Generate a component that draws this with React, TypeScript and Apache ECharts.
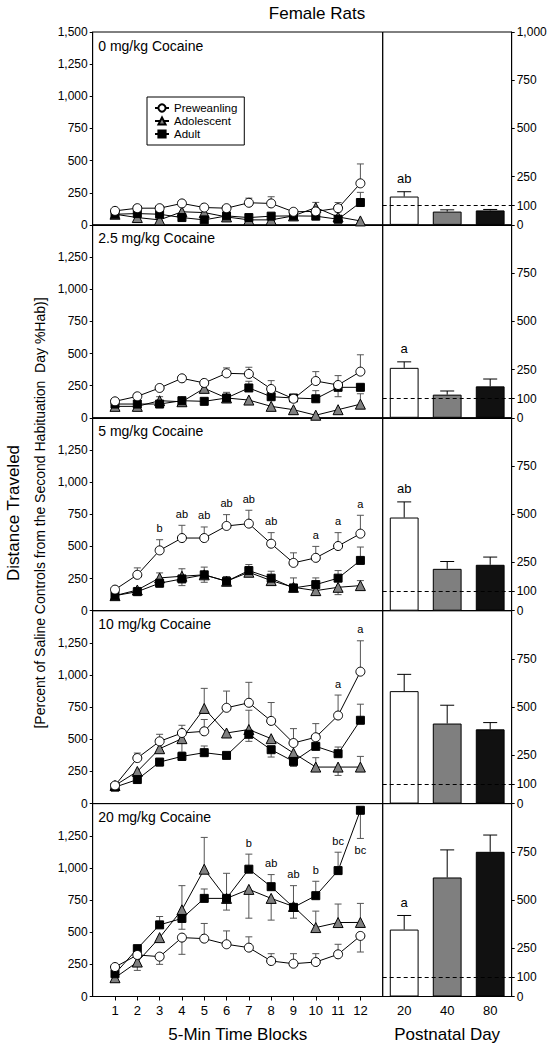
import React, { useEffect, useRef } from "react";
import * as echarts from "echarts";

const FONT = 'Arial, "Liberation Sans", Helvetica, sans-serif';

const blocks = [1, 2, 3, 4, 5, 6, 7, 8, 9, 10, 11, 12];
const days = ["20", "40", "80"];
const doses = ["0 mg/kg Cocaine", "2.5 mg/kg Cocaine", "5 mg/kg Cocaine", "10 mg/kg Cocaine", "20 mg/kg Cocaine"];
const leftTicks = [0, 250, 500, 750, 1000, 1250, 1500];
const rightTicks = [0, 100, 250, 500, 750, 1000];

// Preweanling (PD 20)
const pre0 = [109, 130, 130, 167, 135, 130, 172, 167, 102, 105, 130, 323];
const pre1 = [128, 167, 232, 307, 271, 346, 341, 224, 148, 286, 255, 359];
const pre2 = [164, 279, 469, 565, 565, 659, 677, 521, 372, 411, 503, 599];
const pre3 = [141, 354, 484, 549, 562, 745, 784, 643, 471, 516, 685, 1026];
const pre4 = [229, 323, 310, 458, 450, 406, 380, 276, 255, 268, 328, 471];
const preErr0 = [10, 10, 10, 10, 10, 10, 36, 52, 10, 10, 44, 151];
const preErr1 = [10, 10, 10, 10, 10, 42, 52, 65, 10, 73, 73, 131];
const preErr2 = [10, 54, 83, 99, 86, 88, 104, 86, 78, 89, 104, 143];
const preErr3 = [10, 39, 55, 60, 92, 130, 159, 143, 112, 106, 159, 240];
const preErr4 = [10, 10, -60, -130, 118, 104, 84, 57, 78, 65, 78, -125];

// Adolescent (PD 40)
const ado0 = [83, 57, 39, 102, 96, 62, 39, 39, 70, 135, 62, 31];
const ado1 = [89, 89, 133, 125, 229, 154, 138, 89, 63, 20, 63, 106];
const ado2 = [117, 161, 255, 268, 279, 229, 299, 234, 182, 156, 182, 195];
const ado3 = [141, 250, 427, 505, 740, 549, 576, 505, 393, 284, 284, 284];
const ado4 = [146, 268, 458, 674, 990, 763, 833, 763, 700, 536, 575, 576];
const adoErr0 = [0, 0, 0, 0, 0, 0, 0, 0, 0, 40, 40, 0];
const adoErr1 = [0, 0, 31, 0, 0, 44, 0, 0, 0, 0, 0, 81];
const adoErr2 = [0, 20, 39, 58, 60, 0, 60, 73, 0, -34, -57, 39];
const adoErr3 = [0, 0, 0, -104, 156, 0, 150, 0, 0, 73, -65, 83];
const adoErr4 = [0, -65, 0, 188, 247, 195, -224, -169, 162, 128, 144, 148];

// Adult (PD 80)
const adu0 = [83, 88, 83, 57, 39, 70, 57, 68, 70, 68, 44, 174];
const adu1 = [107, 107, 107, 133, 128, 154, 232, 164, 154, 148, 237, 237];
const adu2 = [117, 148, 214, 247, 279, 229, 312, 253, 177, 203, 253, 391];
const adu3 = [128, 187, 323, 367, 396, 375, 539, 419, 328, 445, 388, 648];
const adu4 = [177, 372, 557, 607, 763, 763, 990, 854, 693, 784, 979, 1448];
const aduErr0 = [0, 0, 0, 0, 0, 0, 0, 0, 0, 0, 0, 79];
const aduErr1 = [0, 0, 0, 0, 0, 0, 52, 35, 0, 63, -73, 0];
const aduErr2 = [0, 0, -30, -52, -58, 36, 0, 0, 78, 52, 59, 104];
const aduErr3 = [0, 0, -30, -30, 52, 0, -55, -57, -39, 0, 52, 125];
const aduErr4 = [0, 0, 65, -84, 73, -91, 117, 94, -84, 112, 143, -219];

// group index: 0 pre, 1 ado, 2 adult
const sig0: [number, string, number][] = [];
const sig1: [number, string, number][] = [];
const sig2: [number, string, number][] = [[3, "b", 0], [4, "ab", 0], [5, "ab", 0], [6, "ab", 0], [7, "ab", 0], [8, "ab", 0], [10, "a", 0], [11, "a", 0], [12, "a", 0]];
const sig3: [number, string, number][] = [[11, "a", 0], [12, "a", 0]];
const sig4: [number, string, number][] = [[7, "b", 2], [8, "ab", 2], [9, "ab", 1], [10, "b", 2], [11, "bc", 2], [12, "bc", 2]];

// Postnatal day bars (%Hab, whole session)
const bar0 = [147, 69, 75];
const bar1 = [259, 120, 163];
const bar2 = [483, 217, 238];
const bar3 = [583, 415, 385];
const bar4 = [347, 617, 750];
const barErr0 = [25, 9, 5];
const barErr1 = [31, 19, 38];
const barErr2 = [81, 38, 40];
const barErr3 = [87, 95, 35];
const barErr4 = [73, 143, 87];
const barSig0 = ["ab", "", ""];
const barSig1 = ["a", "", ""];
const barSig2 = ["ab", "", ""];
const barSig3 = ["", "", ""];
const barSig4 = ["a", "", ""];
const salineLevel = 100;

const preAll = [pre0, pre1, pre2, pre3, pre4];
const preErrAll = [preErr0, preErr1, preErr2, preErr3, preErr4];
const adoAll = [ado0, ado1, ado2, ado3, ado4];
const adoErrAll = [adoErr0, adoErr1, adoErr2, adoErr3, adoErr4];
const aduAll = [adu0, adu1, adu2, adu3, adu4];
const aduErrAll = [aduErr0, aduErr1, aduErr2, aduErr3, aduErr4];
const sigAll = [sig0, sig1, sig2, sig3, sig4];
const barAll = [bar0, bar1, bar2, bar3, bar4];
const barErrAll = [barErr0, barErr1, barErr2, barErr3, barErr4];
const barSigAll = [barSig0, barSig1, barSig2, barSig3, barSig4];

const TOP = 32;
const PH = 192.9;
const LX = 92.7;
const LW = 290;
const RW = 129;

const fmt = (v: number) => v.toLocaleString("en-US");

function errRender(capHalf: number, color: string) {
  return (params: any, api: any) => {
    const x = api.value(0);
    const y = api.value(1);
    const e = api.value(2);
    if (!e) return { type: "group", children: [] };
    const p = api.coord([x, y]);
    const q = api.coord([x, y + e]);
    return {
      type: "group",
      children: [
        { type: "line", shape: { x1: p[0], y1: p[1], x2: q[0], y2: q[1] }, style: { stroke: color, lineWidth: 1 } },
        { type: "line", shape: { x1: q[0] - capHalf, y1: q[1], x2: q[0] + capHalf, y2: q[1] }, style: { stroke: color, lineWidth: 1 } },
      ],
    };
  };
}

function textRender(offset: number, size: number) {
  return (params: any, api: any) => {
    const x = api.value(0);
    const y = api.value(1);
    const e = api.value(2);
    const t = api.value(3);
    if (!t) return { type: "group", children: [] };
    const q = api.coord([x, y + e]);
    const dy = e < 0 ? offset : -offset;
    return {
      type: "text",
      x: q[0],
      y: q[1] + dy,
      style: { text: String(t), textAlign: "center", textVerticalAlign: "middle", fontSize: size, fontFamily: FONT, fill: "#000", textFill: "#000", opacity: 1 },
    };
  };
}

export default function App() {
  const ref = useRef<HTMLDivElement>(null);
  useEffect(() => {
    if (!ref.current) return;
    const chart = echarts.init(ref.current, undefined, { renderer: "svg" });
    const grid: any[] = [];
    const xAxis: any[] = [];
    const yAxis: any[] = [];
    const series: any[] = [];
    const graphic: any[] = [];

    const groups = [
      { name: "Preweanling", symbol: "circle", size: 9, fill: "#fff", vals: preAll, errs: preErrAll },
      { name: "Adolescent", symbol: "triangle", size: 10, fill: "#808080", vals: adoAll, errs: adoErrAll },
      { name: "Adult", symbol: "rect", size: 8, fill: "#000", vals: aduAll, errs: aduErrAll },
    ];
    const drawOrder = [1, 2, 0];

    for (let i = 0; i < 5; i++) {
      const top = TOP + PH * i;
      const bottom = i === 4;
      const li = 2 * i;
      const ri = 2 * i + 1;
      grid.push({ left: LX, top, width: LW, height: PH, show: true, borderColor: "#000", borderWidth: 1, backgroundColor: "transparent" });
      grid.push({ left: LX + LW, top, width: RW, height: PH, show: true, borderColor: "#000", borderWidth: 1, backgroundColor: "transparent" });

      xAxis.push({
        type: "value", gridIndex: li, min: 0, max: 13,
        splitLine: { show: false },
        axisLine: { show: true, lineStyle: { color: "#000", width: 1 } },
        axisTick: { show: bottom, customValues: blocks, length: 4, lineStyle: { color: "#000" } },
        axisLabel: { show: bottom, customValues: blocks, margin: 7, fontSize: 13, color: "#000", fontFamily: FONT },
      });
      xAxis.push({
        type: "category", gridIndex: ri, data: days,
        axisLine: { show: true, lineStyle: { color: "#000", width: 1 } },
        axisTick: { show: false },
        axisLabel: { show: bottom, margin: 7, fontSize: 13, color: "#000", fontFamily: FONT },
      });
      const lv = i === 0 ? leftTicks : leftTicks.slice(0, 6);
      yAxis.push({
        type: "value", gridIndex: li, min: 0, max: 1500,
        splitLine: { show: false },
        axisLine: { show: true, lineStyle: { color: "#000", width: 1 } },
        axisTick: { show: true, customValues: lv, length: 3, lineStyle: { color: "#000" } },
        axisLabel: { customValues: lv, margin: 5, fontSize: 12, color: "#000", fontFamily: FONT, formatter: (v: number) => fmt(v) },
      });
      const rv = i === 0 ? rightTicks : rightTicks.slice(0, 5);
      yAxis.push({
        type: "value", gridIndex: ri, position: "right", min: 0, max: 1000,
        splitLine: { show: false },
        axisLine: { show: true, lineStyle: { color: "#000", width: 1 } },
        axisTick: { show: true, customValues: rv, length: 3, lineStyle: { color: "#000" } },
        axisLabel: { customValues: rv, margin: 5, fontSize: 12, color: "#000", fontFamily: FONT, formatter: (v: number) => fmt(v) },
      });

      // error bars for lines
      const errData: any[] = [];
      drawOrder.forEach((g) => {
        blocks.forEach((b, j) => errData.push([b, groups[g].vals[i][j], groups[g].errs[i][j]]));
      });
      series.push({
        type: "custom", xAxisIndex: li, yAxisIndex: li, z: 1, clip: false, silent: true,
        encode: { x: 0, y: 1 }, renderItem: errRender(3.5, "#555"), data: errData,
      });

      drawOrder.forEach((g) => {
        const G = groups[g];
        series.push({
          name: G.name, type: "line", xAxisIndex: li, yAxisIndex: li, z: 3,
          data: blocks.map((b, j) => [b, G.vals[i][j]]),
          symbol: G.symbol, symbolSize: G.size, showAllSymbol: true,
          itemStyle: { color: G.fill, borderColor: "#000", borderWidth: 1, opacity: 1 },
          lineStyle: { color: "#000", width: 1 },
          emphasis: { disabled: true },
        });
      });

      const sigData = sigAll[i].map(([b, t, g]) => [b, groups[g].vals[i][b - 1], groups[g].errs[i][b - 1], t]);
      series.push({
        type: "custom", xAxisIndex: li, yAxisIndex: li, z: 4, clip: false, silent: true,
        encode: { x: 0, y: 1 }, renderItem: textRender(11.5, 11), data: sigData,
      });

      // bars
      const colors = ["#fff", "#7f7f7f", "#111"];
      series.push({
        type: "bar", xAxisIndex: ri, yAxisIndex: ri, barWidth: "67%", z: 2,
        data: barAll[i].map((v, k) => ({ value: v, itemStyle: { color: colors[k], borderColor: "#000", borderWidth: 1 } })),
        markLine: {
          silent: true, symbol: ["none", "none"], label: { show: false },
          lineStyle: { color: "#000", type: [4, 3], width: 1 },
          data: [{ yAxis: salineLevel }],
        },
      });
      series.push({
        type: "custom", xAxisIndex: ri, yAxisIndex: ri, z: 3, clip: false, silent: true,
        encode: { x: 0, y: 1 }, renderItem: errRender(7, "#000"),
        data: barAll[i].map((v, k) => [k, v, barErrAll[i][k]]),
      });
      series.push({
        type: "custom", xAxisIndex: ri, yAxisIndex: ri, z: 4, clip: false, silent: true,
        encode: { x: 0, y: 1 }, renderItem: textRender(13, 13),
        data: barAll[i].map((v, k) => [k, v, barErrAll[i][k], barSigAll[i][k]]),
      });

      graphic.push({
        type: "text", x: LX + 5.5, y: top + 13.5,
        style: { text: doses[i], fontSize: 14, fontFamily: FONT, fill: "#000", textAlign: "left", textVerticalAlign: "middle" },
      });
    }

    graphic.push({ type: "text", x: 317, y: 13.5, style: { text: "Female Rats", fontSize: 17, fontFamily: FONT, fill: "#000", textAlign: "center", textVerticalAlign: "middle" } });
    graphic.push({ type: "text", x: LX + LW / 2, y: 1034, style: { text: "5-Min Time Blocks", fontSize: 17, fontFamily: FONT, fill: "#000", textAlign: "center", textVerticalAlign: "middle" } });
    graphic.push({ type: "text", x: LX + LW + RW / 2, y: 1034, style: { text: "Postnatal Day", fontSize: 17, fontFamily: FONT, fill: "#000", textAlign: "center", textVerticalAlign: "middle" } });
    graphic.push({ type: "text", x: 13, y: 513, rotation: Math.PI / 2, style: { text: "Distance Traveled", fontSize: 17, fontFamily: FONT, fill: "#000", textAlign: "center", textVerticalAlign: "middle" } });
    graphic.push({ type: "text", x: 40, y: 513, rotation: Math.PI / 2, style: { text: "[Percent of Saline Controls from the Second Habituation  Day %Hab)]", fontSize: 14, fontFamily: FONT, fill: "#000", textAlign: "center", textVerticalAlign: "middle" } });

    chart.setOption({
      animation: false,
      backgroundColor: "#fff",
      textStyle: { fontFamily: FONT },
      grid, xAxis, yAxis, series, graphic,
      legend: {
        data: ["Preweanling", "Adolescent", "Adult"],
        orient: "vertical", left: 147, top: 97,
        itemGap: 1, itemWidth: 14, itemHeight: 9,
        padding: [5, 7, 5, 7],
        borderColor: "#000", borderWidth: 1, backgroundColor: "#fff",
        textStyle: { fontSize: 11.5, color: "#000", fontFamily: FONT },
        selectedMode: false,
      },
    });
    return () => chart.dispose();
  }, []);
  return <div ref={ref} style={{ position: "fixed", left: 0, top: 0, width: 555, height: 1050 }} />;
}
